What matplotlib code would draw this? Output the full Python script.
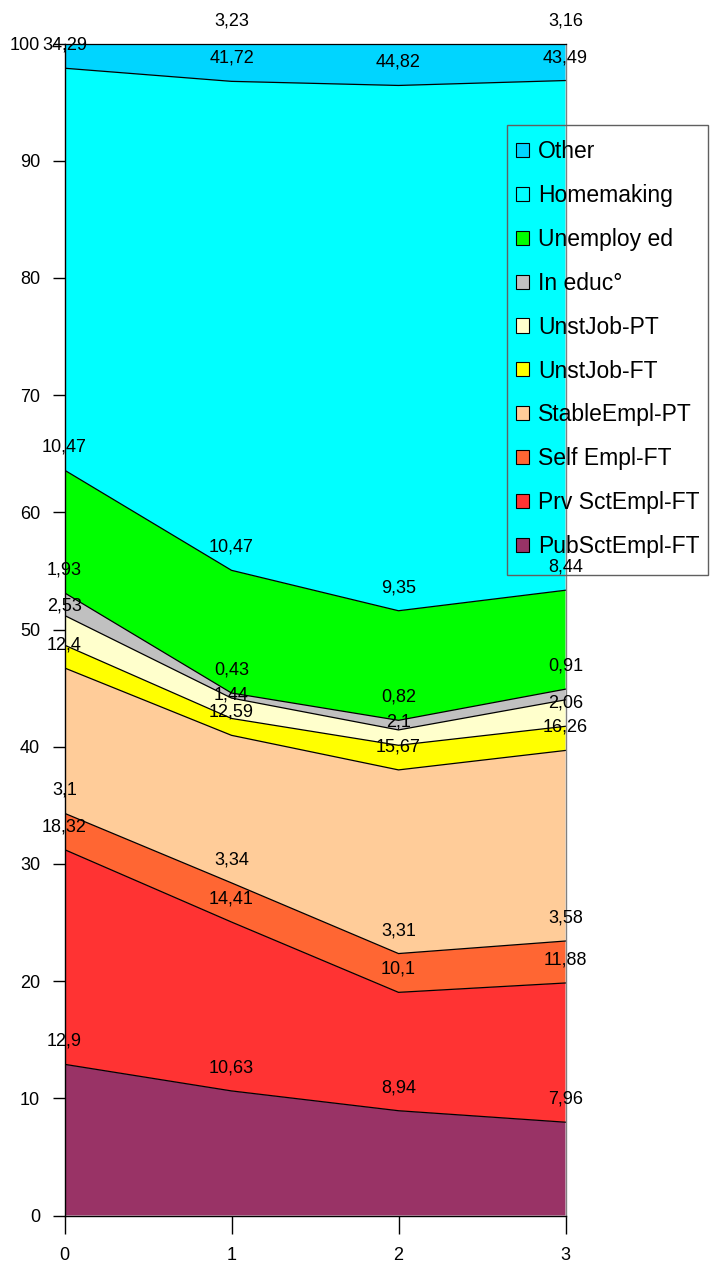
import matplotlib
matplotlib.use("Agg")
import matplotlib.pyplot as plt
from matplotlib.patches import Patch, Rectangle
from matplotlib import font_manager as fm
import numpy as np

# ---------------- data ----------------
x_values = [0, 1, 2, 3]

series_names = ["PubSctEmpl-FT", "PrvSctEmpl-FT", "SelfEmpl-FT", "StableEmpl-PT",
                "UnstJob-FT", "UnstJob-PT", "In educ°", "Unemployed",
                "Homemaking", "Other"]
legend_labels = ["PubSctEmpl-FT", "Prv SctEmpl-FT", "Self Empl-FT", "StableEmpl-PT",
                 "UnstJob-FT", "UnstJob-PT", "In educ°", "Unemploy ed",
                 "Homemaking", "Other"]

pub_sct_empl_ft = [12.9, 10.63, 8.94, 7.96]
prv_sct_empl_ft = [18.32, 14.41, 10.1, 11.88]
self_empl_ft = [3.1, 3.34, 3.31, 3.58]
stable_empl_pt = [12.4, 12.59, 15.67, 16.26]
unst_job_ft = [1.95, 1.44, 2.1, 2.06]
unst_job_pt = [2.53, 1.74, 1.31, 2.26]
in_educ = [1.93, 0.43, 0.82, 0.91]
unemployed = [10.47, 10.47, 9.35, 8.44]
homemaking = [34.29, 41.72, 44.82, 43.49]
other = [2.1, 3.23, 3.58, 3.16]

series_values = [pub_sct_empl_ft, prv_sct_empl_ft, self_empl_ft, stable_empl_pt,
                 unst_job_ft, unst_job_pt, in_educ, unemployed, homemaking, other]

y_ticks = [0, 10, 20, 30, 40, 50, 60, 70, 80, 90, 100]

# value labels that are not displayed in the reference (series index, point index)
hidden_labels = {(4, 0), (5, 1), (5, 2), (5, 3), (9, 0), (9, 2)}
# extra vertical shift (pixels) for a label that the reference moved
label_nudge = {(5, 0): -14}

colors = ["#993366", "#FF3333", "#FF6633", "#FFCC99", "#FFFF00",
          "#FFFFCC", "#C0C0C0", "#00FF00", "#00FFFF", "#00D5FF"]

# ---------------- fonts ----------------
available = {f.name for f in fm.fontManager.ttflist}
narrow_family = None
for cand in ["Liberation Sans Narrow", "Arial Narrow"]:
    if cand in available:
        narrow_family = cand
        break
if narrow_family:
    plt.rcParams["font.family"] = [narrow_family, "DejaVu Sans"]
    num_size, legend_size = 14.4, 20
else:
    plt.rcParams["font.family"] = ["Liberation Sans", "DejaVu Sans"]
    num_size, legend_size = 13, 16.5

# ---------------- figure ----------------
W, H = 710, 1265
fig = plt.figure(figsize=(W / 100, H / 100), dpi=100)
left, right, top, bottom = 64.5, 565.5, 43.5, 1215.5
ax = fig.add_axes([left / W, 1 - bottom / H, (right - left) / W, (bottom - top) / H])

x = np.array(x_values, dtype=float)
cum = np.zeros(len(x))
tops = []
for vals, color in zip(series_values, colors):
    upper = cum + np.array(vals)
    ax.fill_between(x, cum, upper, facecolor=color, edgecolor="none", linewidth=0, zorder=1)
    ax.plot(x, upper, color="black", lw=0.9, zorder=2)
    tops.append(upper.copy())
    cum = upper

def fmt(v):
    return f"{v:g}".replace(".", ",")

for si, vals in enumerate(series_values):
    for pi, v in enumerate(vals):
        if (si, pi) in hidden_labels:
            continue
        dy = 23 + label_nudge.get((si, pi), 0)
        ax.annotate(fmt(v), xy=(x[pi], tops[si][pi]), xytext=(0, dy),
                    textcoords="offset pixels", ha="center", va="center",
                    fontsize=num_size, color="black", zorder=5, annotation_clip=False)

ax.set_xlim(0, 3)
ax.set_ylim(0, 100)
ax.set_xticks(x_values)
ax.set_xticklabels([str(v) for v in x_values])
ax.set_yticks(y_ticks)
ax.set_yticklabels([str(v) for v in y_ticks])

ax.tick_params(axis="y", direction="out", length=9, width=1, pad=8.6,
               labelsize=num_size, colors="black")
ax.tick_params(axis="x", direction="out", length=13, width=1, pad=9.5,
               labelsize=num_size, colors="black")

for side in ["left", "bottom"]:
    ax.spines[side].set_color("black")
    ax.spines[side].set_linewidth(1)
ax.spines["right"].set_color("#808080")
ax.spines["right"].set_linewidth(1)
ax.spines["top"].set_color("black")
ax.spines["top"].set_linewidth(0.9)

# ---------------- legend ----------------
handles = [Patch(facecolor=c, edgecolor="black", linewidth=0.8) for c in colors]
fs_px = legend_size * 100 / 72
leg = fig.legend(handles[::-1], legend_labels[::-1], loc="upper left",
                 bbox_to_anchor=(516 / W, 1 - 140 / H), borderaxespad=0,
                 fontsize=legend_size, frameon=False,
                 handlelength=13 / fs_px, handleheight=13 / fs_px,
                 handletextpad=9 / fs_px,
                 labelspacing=20.9 / fs_px, borderpad=0)
# legend border box (transparent, grey outline)
fig.add_artist(Rectangle((507 / W, 1 - 575 / H), (708 - 507) / W, (575 - 125) / H,
                         transform=fig.transFigure, fill=False,
                         edgecolor="#606060", linewidth=1, zorder=10))

fig.savefig("out.png", dpi=100)
